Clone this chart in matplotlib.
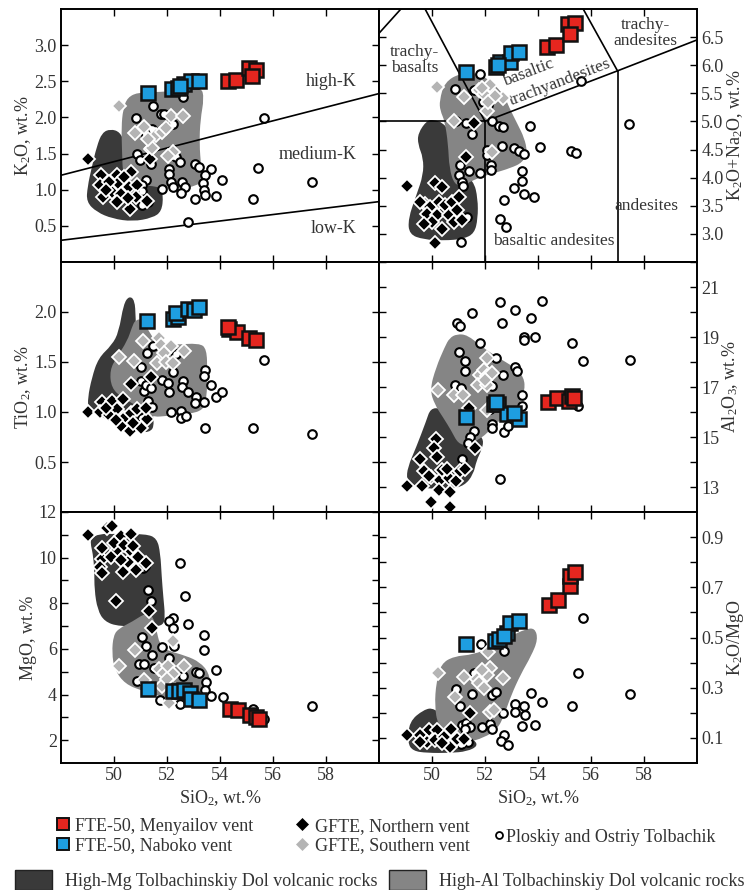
import numpy as np
import matplotlib
matplotlib.use("Agg")
import matplotlib.pyplot as plt
from matplotlib.path import Path
from matplotlib.patches import PathPatch, Patch
from matplotlib.lines import Line2D

plt.rcParams['font.family'] = ['Liberation Serif', 'DejaVu Serif']
plt.rcParams['mathtext.fontset'] = 'custom'
plt.rcParams['mathtext.rm'] = 'Liberation Serif'
plt.rcParams['mathtext.it'] = 'Liberation Serif:italic'

TXT = '#333333'
RED = '#e5261f'
BLUE = '#1e9ee0'
DARK = '#3a3a3a'
GRAY = '#858585'
LGRAY = '#b4b4b4'

# ---------------- data: K2O vs SiO2 ----------------
red_k2o = [(54.3, 2.50), (54.6, 2.52), (55.1, 2.69), (55.35, 2.66), (55.2, 2.57)]
blue_k2o = [(51.3, 2.34), (52.2, 2.40), (52.4, 2.41), (52.65, 2.46), (52.9, 2.50), (53.2, 2.50), (52.5, 2.43)]
circ_k2o = [(51.48, 2.16), (50.82, 1.99), (51.77, 2.05), (51.90, 2.05), (52.09, 1.91), (52.21, 1.91), (52.62, 2.28),
            (51.20, 1.76), (51.45, 1.84), (50.88, 1.49), (50.97, 1.41), (51.35, 1.43), (51.39, 1.35), (52.06, 1.29),
            (52.06, 1.22), (52.34, 1.45), (52.50, 1.38), (53.07, 1.36), (53.20, 1.31), (53.67, 1.28), (53.45, 1.20),
            (52.15, 1.11), (52.21, 1.04), (52.57, 1.11), (52.69, 1.04), (52.53, 0.95), (53.35, 1.09), (53.38, 0.99),
            (53.45, 0.93), (53.07, 0.87), (53.86, 0.91), (54.08, 1.13), (55.25, 0.87), (55.44, 1.30), (55.66, 1.99),
            (57.46, 1.11), (52.78, 0.55), (51.80, 1.01), (51.20, 1.13), (51.05, 1.06), (51.01, 0.90), (51.07, 0.79),
            (51.30, 0.83), (51.05, 0.98)]
north_k2o = [(49.01, 1.43), (51.39, 1.56), (49.52, 1.21), (50.13, 1.21), (50.63, 1.24), (49.46, 1.06), (50.16, 1.09),
             (50.57, 1.04), (49.94, 0.97), (50.25, 0.94), (50.13, 0.83), (50.59, 0.73), (50.88, 1.06), (51.26, 0.85),
             (49.81, 1.11), (50.38, 1.17), (50.82, 0.90), (49.58, 0.90), (51.35, 1.42), (49.71, 0.99), (50.51, 0.88)]
south_k2o = [(50.19, 2.16), (50.80, 1.78), (51.14, 1.87), (51.58, 1.76), (51.83, 1.80), (51.96, 1.85), (52.15, 2.02),
             (52.59, 2.02), (51.43, 1.58), (52.21, 1.52), (52.02, 1.46), (51.30, 1.70)]
hiAl_k2o = [(50.34, 2.11), (50.51, 2.28), (50.95, 2.35), (51.71, 2.35), (52.72, 2.38), (53.29, 2.42), (53.40, 2.27),
            (53.26, 1.97), (53.22, 1.64), (53.29, 1.31), (53.34, 1.13), (53.10, 1.05), (52.53, 1.02), (51.83, 1.02),
            (51.33, 1.06), (50.70, 1.06), (50.34, 1.17), (50.30, 1.55), (50.28, 1.87)]
hiMg_k2o = [(48.96, 0.83), (49.00, 1.04), (49.16, 1.31), (49.35, 1.60), (49.55, 1.79), (49.87, 1.84), (50.22, 1.80),
            (50.40, 1.65), (51.00, 1.30), (51.75, 1.10), (51.86, 0.92), (51.80, 0.70), (51.45, 0.61), (50.70, 0.56),
            (49.94, 0.60), (49.35, 0.69)]
k_high_line = ([48, 60], [1.20, 2.33])
k_low_line = ([48, 60], [0.30, 0.835])

# ---------------- data: K2O+Na2O vs SiO2 (TAS) ----------------
red_tas = [(54.34, 6.33), (54.69, 6.36), (55.12, 6.73), (55.41, 6.75), (55.19, 6.55)]
blue_tas = [(51.30, 5.88), (52.43, 5.97), (52.58, 6.06), (52.96, 6.06), (52.99, 6.22), (53.27, 6.24), (52.50, 6.00)]
circ_tas = [(51.80, 5.84), (50.88, 5.58), (51.57, 5.56), (51.92, 5.34), (52.11, 5.30), (50.92, 5.01), (51.30, 4.98),
            (51.51, 4.77), (52.26, 5.01), (52.52, 4.92), (52.68, 4.90), (53.69, 4.92), (52.08, 4.50), (52.08, 4.41),
            (52.64, 4.56), (53.08, 4.53), (53.27, 4.48), (53.46, 4.42), (54.09, 4.55), (55.26, 4.47), (55.45, 4.44),
            (55.62, 5.72), (57.45, 4.96), (51.07, 4.22), (51.38, 4.11), (51.01, 4.05), (51.82, 4.08), (52.23, 4.23),
            (52.23, 4.14), (53.40, 4.12), (53.40, 3.94), (53.08, 3.82), (53.46, 3.71), (53.86, 3.65), (52.70, 3.60),
            (52.55, 3.27), (52.80, 3.13), (51.13, 3.93), (51.17, 3.85), (51.32, 3.30), (51.11, 2.86)]
north_tas = [(49.06, 3.85), (50.13, 2.83), (51.57, 4.98), (51.30, 4.36), (50.13, 3.90), (50.38, 3.84), (49.75, 3.54),
             (49.94, 3.48), (50.25, 3.57), (50.50, 3.51), (50.75, 3.57), (51.01, 3.66), (49.81, 3.36), (50.19, 3.33),
             (50.63, 3.33), (50.94, 3.42), (50.00, 3.21), (50.38, 3.09), (50.82, 3.21), (51.13, 3.24), (49.69, 3.18),
             (49.56, 3.57)]
south_tas = [(50.19, 5.62), (52.68, 5.42), (51.20, 5.43), (51.76, 5.56), (52.18, 5.64), (51.97, 5.48), (52.39, 5.46),
             (52.08, 5.19), (50.82, 5.00), (52.26, 4.46), (51.90, 5.60), (52.10, 5.35)]
hiAl_tas = [(50.28, 5.37), (50.48, 5.70), (51.07, 5.86), (51.76, 5.86), (52.28, 5.69), (52.72, 5.47), (52.91, 5.25),
            (53.23, 4.95), (53.48, 4.71), (53.60, 4.46), (53.42, 4.27), (52.96, 4.17), (52.33, 4.08), (51.70, 3.99),
            (51.19, 3.86), (50.85, 3.87), (50.65, 4.17), (50.61, 4.59), (50.48, 5.01), (50.31, 5.19)]
hiMg_tas = [(49.81, 5.02), (49.47, 4.79), (49.47, 4.59), (49.67, 4.35), (49.67, 4.05), (49.41, 3.69), (49.10, 3.27),
            (49.14, 2.99), (49.69, 2.90), (50.44, 2.88), (51.19, 2.91), (51.60, 3.01), (51.73, 3.27), (51.73, 3.63),
            (51.57, 3.95), (50.90, 4.20), (50.65, 4.83), (50.40, 4.98), (50.06, 5.03)]
tas_lines = [([45.0, 49.4], [5.0, 7.3]),
             ([49.4, 52.0], [7.3, 5.0]),
             ([45.0, 52.0], [5.0, 5.0]),
             ([52.0, 52.0], [0.0, 5.0]),
             ([52.0, 57.0, 63.0], [5.0, 5.9, 7.0]),
             ([57.0, 57.0], [0.0, 5.9]),
             ([53.0, 57.0], [9.3, 5.9])]

# ---------------- data: TiO2 vs SiO2 ----------------
red_ti = [(54.34, 1.83), (54.64, 1.80), (55.09, 1.74), (55.35, 1.72), (54.30, 1.85)]
blue_ti = [(51.26, 1.91), (52.21, 1.93), (52.40, 1.95), (52.34, 1.99), (52.78, 2.03), (53.03, 2.02), (53.22, 2.05)]
circ_ti = [(51.48, 1.66), (51.26, 1.59), (52.34, 1.58), (51.01, 1.45), (52.21, 1.40), (53.45, 1.42), (53.38, 1.36),
           (51.01, 1.31), (51.14, 1.21), (51.20, 1.27), (51.39, 1.24), (51.81, 1.32), (52.02, 1.29), (52.59, 1.31),
           (52.57, 1.25), (52.78, 1.20), (52.06, 1.20), (51.30, 1.11), (51.45, 1.05), (53.10, 1.15), (53.07, 1.09),
           (53.38, 1.10), (53.67, 1.27), (53.86, 1.15), (54.08, 1.20), (52.15, 1.00), (52.53, 1.01), (52.53, 0.94),
           (52.72, 0.96), (53.45, 0.84), (55.25, 0.84), (55.66, 1.52), (57.46, 0.78), (51.05, 0.94)]
north_ti = [(49.03, 1.00), (50.63, 1.28), (51.39, 1.35), (49.53, 1.10), (49.94, 1.11), (50.34, 1.13), (49.49, 1.00),
            (49.81, 0.97), (50.13, 1.03), (50.38, 0.94), (50.63, 0.99), (50.88, 1.03), (50.25, 0.86), (50.59, 0.81),
            (51.01, 0.84), (51.26, 0.93), (49.68, 1.04), (50.06, 0.92), (50.70, 0.89), (51.20, 1.04)]
south_ti = [(50.19, 1.55), (51.10, 1.71), (50.76, 1.51), (51.68, 1.74), (51.77, 1.67), (52.15, 1.66), (51.90, 1.59),
            (51.64, 1.49), (51.96, 1.50), (52.21, 1.49), (52.65, 1.61)]
hiAl_ti = [(50.80, 1.92), (51.07, 1.93), (51.33, 1.80), (51.58, 1.70), (52.21, 1.67), (53.22, 1.69), (53.50, 1.63),
           (53.52, 1.40), (53.50, 1.14), (53.37, 1.02), (52.84, 0.98), (51.96, 0.96), (51.52, 0.95), (51.33, 0.98),
           (50.95, 1.05), (50.32, 1.14), (49.90, 1.24), (49.84, 1.42), (50.11, 1.55), (50.50, 1.71), (50.68, 1.85)]
hiMg_ti = [(50.57, 2.16), (50.36, 2.08), (50.18, 1.80), (49.92, 1.67), (49.41, 1.54), (49.16, 1.34), (49.01, 1.14),
           (49.03, 1.03), (49.43, 0.97), (49.94, 0.89), (50.70, 0.81), (51.35, 0.79), (51.55, 0.88), (51.30, 1.20),
           (50.85, 1.60), (50.82, 1.95), (50.78, 2.12)]

# ---------------- data: Al2O3 vs SiO2 ----------------
red_al = [(54.36, 16.41), (54.72, 16.57), (55.16, 16.46), (55.28, 16.63), (55.37, 16.57)]
blue_al = [(51.30, 15.80), (52.35, 16.33), (52.48, 16.33), (52.83, 15.91), (53.27, 15.74), (53.08, 15.97), (52.40, 16.40)]
circ_al = [(51.51, 19.98), (50.94, 19.55), (51.07, 19.45), (52.58, 20.40), (52.64, 19.55), (53.14, 20.07), (53.74, 19.77),
           (54.15, 20.43), (53.46, 19.02), (53.48, 18.88), (53.90, 19.02), (51.82, 18.75), (51.01, 18.39), (55.28, 18.75),
           (55.69, 18.05), (57.48, 18.09), (51.26, 18.05), (52.43, 18.16), (51.26, 17.65), (52.68, 17.49), (53.14, 17.79),
           (53.21, 17.65), (50.88, 17.07), (51.09, 16.97), (52.26, 17.03), (53.40, 16.70), (53.40, 16.24), (52.20, 16.11),
           (52.26, 15.51), (52.26, 15.35), (52.70, 15.22), (52.86, 15.44), (51.57, 15.25), (51.42, 15.01), (51.35, 14.78),
           (51.13, 14.12), (52.58, 13.33), (55.50, 16.24)]
north_al = [(49.06, 13.06), (49.96, 12.40), (50.67, 12.20), (49.62, 13.06), (49.96, 13.39), (50.31, 13.29), (50.63, 13.37),
            (50.92, 13.26), (50.25, 12.87), (50.69, 12.80), (50.16, 14.92), (50.09, 14.56), (50.19, 14.19), (50.38, 13.69),
            (50.57, 13.72), (51.04, 13.66), (49.69, 13.66), (49.56, 14.12), (51.38, 16.17), (49.87, 13.46), (51.26, 13.72),
            (51.64, 14.56)]
south_al = [(50.21, 16.90), (50.84, 16.67), (51.17, 16.70), (52.08, 18.18), (51.80, 17.50), (51.95, 17.70), (52.08, 17.44),
            (52.26, 17.57), (51.75, 17.07), (52.08, 17.10), (52.00, 17.30), (52.08, 16.10)]
hiAl_al = [(50.94, 19.12), (51.34, 19.08), (51.84, 18.64), (52.45, 18.20), (53.10, 17.80), (53.48, 17.38), (53.50, 16.83),
           (53.30, 16.28), (52.90, 15.88), (52.45, 15.60), (52.08, 15.14), (51.70, 14.86), (51.32, 14.66), (50.98, 14.74),
           (50.73, 15.25), (50.42, 15.78), (50.10, 16.30), (49.92, 16.90), (50.15, 17.78), (50.48, 18.60), (50.66, 18.96)]
hiMg_al = [(49.94, 16.14), (49.78, 15.64), (49.40, 14.58), (49.08, 13.79), (49.04, 13.28), (49.28, 13.05), (49.94, 12.92),
           (50.69, 12.92), (51.22, 13.05), (51.56, 13.50), (51.68, 14.06), (51.86, 14.45), (51.96, 14.88), (51.72, 15.15),
           (51.00, 15.80), (50.31, 16.16)]

# ---------------- data: MgO vs SiO2 ----------------
red_mg = [(54.36, 3.38), (54.68, 3.34), (55.12, 3.09), (55.37, 3.02), (55.47, 2.94)]
blue_mg = [(51.29, 4.26), (52.21, 4.14), (52.44, 4.17), (52.65, 4.21), (52.87, 4.07), (52.91, 3.80), (53.22, 3.78)]
circ_mg = [(52.49, 9.78), (52.69, 8.32), (51.30, 8.56), (51.39, 8.12), (52.21, 7.35), (52.06, 7.23), (52.21, 6.91),
           (52.78, 7.08), (53.38, 6.62), (53.38, 5.96), (51.05, 6.50), (51.20, 6.14), (51.45, 5.74), (51.81, 6.08),
           (52.06, 5.60), (52.28, 6.11), (50.95, 5.35), (51.14, 5.34), (51.52, 5.16), (50.88, 4.58), (52.59, 4.80),
           (53.10, 4.97), (53.22, 4.94), (53.48, 4.53), (53.45, 4.21), (53.67, 3.95), (53.86, 5.09), (54.13, 3.89),
           (51.75, 3.75), (52.50, 3.59), (55.25, 3.37), (55.65, 2.93), (57.46, 3.48), (51.10, 9.53), (51.18, 9.64)]
north_mg = [(49.01, 10.99), (49.75, 11.28), (49.94, 11.40), (50.25, 10.96), (50.63, 11.03), (49.56, 9.93), (49.49, 9.61),
            (50.13, 10.34), (50.54, 9.83), (51.20, 9.75), (51.33, 7.64), (51.45, 6.91), (49.53, 9.31), (50.61, 10.34),
            (49.56, 10.41), (50.00, 10.66), (50.38, 10.55), (50.70, 10.51), (49.87, 10.04), (50.25, 9.90), (50.34, 9.39),
            (50.82, 9.46), (50.06, 8.08), (50.92, 10.01)]
south_mg = [(50.19, 5.23), (50.80, 5.96), (51.14, 4.65), (51.71, 5.12), (51.90, 4.95), (52.02, 5.24), (51.83, 4.39),
            (52.21, 4.88), (52.65, 5.23), (52.21, 6.33), (52.06, 3.63), (52.00, 4.70)]
hiAl_mg = [(49.98, 6.60), (50.19, 6.90), (50.70, 7.20), (51.20, 7.58), (51.48, 7.42), (51.60, 6.84), (51.72, 6.22),
           (51.96, 5.94), (52.72, 5.70), (53.24, 5.42), (53.58, 4.96), (53.64, 4.34), (53.43, 3.86), (52.84, 3.72),
           (52.21, 3.74), (51.71, 3.94), (51.07, 4.16), (50.42, 4.46), (50.02, 5.09), (49.92, 5.84)]
hiMg_mg = [(49.15, 10.85), (49.43, 11.04), (50.06, 11.04), (51.20, 11.04), (51.62, 10.85), (51.75, 10.19), (51.80, 9.17),
           (51.86, 8.29), (51.93, 7.42), (51.86, 7.05), (51.52, 6.98), (50.19, 6.98), (49.64, 7.20), (49.38, 7.71),
           (49.26, 8.59), (49.26, 9.46), (49.20, 10.19), (49.11, 10.63)]

# ---------------- data: K2O/MgO vs SiO2 ----------------
red_km = [(54.40, 0.630), (54.74, 0.650), (55.19, 0.705), (55.19, 0.745), (55.38, 0.760)]
blue_km = [(51.30, 0.476), (52.39, 0.488), (52.52, 0.495), (52.83, 0.516), (52.96, 0.558), (53.27, 0.565), (52.70, 0.505)]
circ_km = [(51.85, 0.475), (52.70, 0.446), (51.60, 0.360), (55.70, 0.578), (55.50, 0.360), (57.48, 0.275), (50.92, 0.295),
           (51.04, 0.229), (51.51, 0.275), (52.26, 0.272), (52.43, 0.284), (52.68, 0.200), (53.14, 0.236), (53.46, 0.229),
           (53.52, 0.192), (53.74, 0.278), (54.15, 0.245), (55.28, 0.226), (53.14, 0.205), (53.40, 0.146), (53.90, 0.153),
           (51.13, 0.153), (51.30, 0.161), (51.42, 0.143), (51.26, 0.137), (51.89, 0.143), (52.20, 0.157), (52.26, 0.134),
           (52.70, 0.110), (52.60, 0.087), (52.86, 0.071), (51.35, 0.084), (51.09, 0.074)]
north_km = [(49.06, 0.113), (51.45, 0.200), (49.87, 0.130), (50.19, 0.130), (49.56, 0.110), (49.81, 0.084), (50.13, 0.091),
            (50.44, 0.104), (50.72, 0.137), (50.69, 0.064), (50.94, 0.097), (49.56, 0.084), (51.19, 0.097), (50.38, 0.078)]
south_km = [(50.21, 0.360), (52.10, 0.442), (51.22, 0.341), (50.88, 0.262), (52.20, 0.203), (52.33, 0.210), (52.68, 0.337),
            (51.70, 0.336), (51.76, 0.320), (51.95, 0.300), (52.20, 0.380), (52.08, 0.350), (51.90, 0.370)]
hiAl_km = [(50.34, 0.395), (50.82, 0.425), (51.57, 0.432), (52.20, 0.460), (52.96, 0.505), (53.52, 0.533), (53.88, 0.538),
           (54.00, 0.492), (53.74, 0.426), (53.35, 0.354), (52.98, 0.268), (52.72, 0.189), (52.47, 0.135), (51.95, 0.100),
           (51.32, 0.082), (50.69, 0.095), (50.22, 0.150), (50.10, 0.229), (50.16, 0.321)]
hiMg_km = [(49.08, 0.080), (49.14, 0.165), (49.69, 0.213), (50.08, 0.220), (50.70, 0.160), (51.57, 0.095), (51.74, 0.068),
           (51.32, 0.046), (50.69, 0.040), (49.81, 0.040), (49.28, 0.048)]

sio2_ticks = [50, 52, 54, 56, 58]


def field(ax, pts, color):
    p = np.asarray(pts, float)
    mids = (p + np.roll(p, -1, axis=0)) / 2.0
    verts = [mids[-1]]
    codes = [Path.MOVETO]
    for i in range(len(p)):
        verts += [p[i], mids[i]]
        codes += [Path.CURVE3, Path.CURVE3]
    verts.append(mids[-1])
    codes.append(Path.CLOSEPOLY)
    ax.add_patch(PathPatch(Path(verts, codes), facecolor=color, edgecolor='none', zorder=1))


def pts_plot(ax, pts, **kw):
    a = np.asarray(pts, float)
    ax.plot(a[:, 0], a[:, 1], linestyle='none', **kw)


CIRC = dict(marker='o', ms=6.2, mfc='white', mec='black', mew=1.5, zorder=3)
NORTH = dict(marker='D', ms=6.8, mfc='black', mec='white', mew=1.3, zorder=4)
SOUTH = dict(marker='D', ms=6.8, mfc=LGRAY, mec='white', mew=1.3, zorder=4)
REDM = dict(marker='s', ms=10, mfc=RED, mec='#111111', mew=1.8, zorder=5)
BLUEM = dict(marker='s', ms=10, mfc=BLUE, mec='#111111', mew=1.8, zorder=5)

fig = plt.figure(figsize=(7.53, 8.90), dpi=100)
W, H = 753.0, 890.0
cols = [61, 379]
rows = [(9, 262), (262, 512), (512, 763)]
panel_w = 318

panels = [
    dict(r=0, c=0, red=red_k2o, blue=blue_k2o, circ=circ_k2o, north=north_k2o, south=south_k2o,
         hiAl=hiAl_k2o, hiMg=hiMg_k2o, ylim=(0, 3.5), yt=[0.5, 1.0, 1.5, 2.0, 2.5, 3.0],
         ytl=['0.5', '1.0', '1.5', '2.0', '2.5', '3.0'], ylab=r'K$_\mathregular{2}$O, wt.%'),
    dict(r=0, c=1, red=red_tas, blue=blue_tas, circ=circ_tas, north=north_tas, south=south_tas,
         hiAl=hiAl_tas, hiMg=hiMg_tas, ylim=(2.5, 7.0), yt=[3.0, 3.5, 4.0, 4.5, 5.0, 5.5, 6.0, 6.5],
         ytl=['3.0', '3.5', '4.0', '4.5', '5.0', '5.5', '6.0', '6.5'],
         ylab=r'K$_\mathregular{2}$O+Na$_\mathregular{2}$O, wt.%'),
    dict(r=1, c=0, red=red_ti, blue=blue_ti, circ=circ_ti, north=north_ti, south=south_ti,
         hiAl=hiAl_ti, hiMg=hiMg_ti, ylim=(0, 2.5), yt=[0.5, 1.0, 1.5, 2.0],
         ytl=['0.5', '1.0', '1.5', '2.0'], ylab=r'TiO$_\mathregular{2}$, wt.%'),
    dict(r=1, c=1, red=red_al, blue=blue_al, circ=circ_al, north=north_al, south=south_al,
         hiAl=hiAl_al, hiMg=hiMg_al, ylim=(12, 22), yt=list(range(12, 23)),
         ytl=['' if v % 2 == 0 else str(v) for v in range(12, 23)],
         ylab=r'Al$_\mathregular{2}$O$_\mathregular{3}$, wt.%'),
    dict(r=2, c=0, red=red_mg, blue=blue_mg, circ=circ_mg, north=north_mg, south=south_mg,
         hiAl=hiAl_mg, hiMg=hiMg_mg, ylim=(1, 12), yt=list(range(2, 13)),
         ytl=[str(v) if v % 2 == 0 else '' for v in range(2, 13)], ylab='MgO, wt.%'),
    dict(r=2, c=1, red=red_km, blue=blue_km, circ=circ_km, north=north_km, south=south_km,
         hiAl=hiAl_km, hiMg=hiMg_km, ylim=(0, 1.0), yt=[0.1, 0.2, 0.3, 0.4, 0.5, 0.6, 0.7, 0.8, 0.9],
         ytl=['0.1', '', '0.3', '', '0.5', '', '0.7', '', '0.9'], ylab=r'K$_\mathregular{2}$O/MgO'),
]

axes = {}
for p in panels:
    top, bot = rows[p['r']]
    x0 = cols[p['c']]
    ax = fig.add_axes([x0 / W, 1 - bot / H, panel_w / W, (bot - top) / H])
    axes[(p['r'], p['c'])] = ax
    ax.set_xlim(48, 60)
    ax.set_ylim(*p['ylim'])
    field(ax, p['hiMg'], DARK)
    field(ax, p['hiAl'], GRAY)
    pts_plot(ax, p['circ'], **CIRC)
    pts_plot(ax, p['north'], **NORTH)
    pts_plot(ax, p['south'], **SOUTH)
    pts_plot(ax, p['blue'], **BLUEM)
    pts_plot(ax, p['red'], **REDM)
    ax.set_xticks(sio2_ticks)
    ax.set_yticks(p['yt'])
    ax.set_yticklabels(p['ytl'])
    ax.tick_params(direction='in', length=5, width=1.0, top=True, bottom=True, left=True, right=True,
                   labelsize=13, labelcolor=TXT, color='black', pad=3)
    if p['r'] < 2:
        ax.set_xticklabels([])
    else:
        ax.set_xticklabels([str(v) for v in sio2_ticks])
        ax.set_xlabel(r'SiO$_\mathregular{2}$, wt.%', fontsize=13, color=TXT, labelpad=3)
    if p['c'] == 1:
        ax.tick_params(labelleft=False, labelright=True)
        ax.yaxis.set_label_position('right')
    ax.set_ylabel(p['ylab'], fontsize=13, color=TXT, labelpad=1)
    for s in ax.spines.values():
        s.set_linewidth(1.4)
        s.set_color('black')

# K classification lines and labels
ax = axes[(0, 0)]
ax.plot(*k_high_line, color='black', lw=1.2, zorder=2)
ax.plot(*k_low_line, color='black', lw=1.2, zorder=2)
ax.text(58.2, 2.50, 'high-K', fontsize=13, color=TXT, ha='center', va='center')
ax.text(57.7, 1.49, 'medium-K', fontsize=13, color=TXT, ha='center', va='center')
ax.text(58.3, 0.47, 'low-K', fontsize=13, color=TXT, ha='center', va='center')

# TAS boundaries and labels
ax = axes[(0, 1)]
for xs, ys in tas_lines:
    ax.plot(xs, ys, color='black', lw=1.2, zorder=2)
ax.text(49.35, 6.09, 'trachy-\nbasalts', fontsize=12.5, color=TXT, ha='center', va='center', linespacing=1.0)
ax.text(58.05, 6.57, 'trachy-\nandesites', fontsize=12.5, color=TXT, ha='center', va='center', linespacing=1.0)
ax.text(58.1, 3.50, 'andesites', fontsize=12.5, color=TXT, ha='center', va='center')
ax.text(54.6, 2.88, 'basaltic andesites', fontsize=12.5, color=TXT, ha='center', va='center')
ax.text(53.65, 5.86, 'basaltic', fontsize=12.5, color=TXT, ha='center', va='center', rotation=21,
        rotation_mode='anchor')
ax.text(54.84, 5.70, 'trachyandesites', fontsize=12.5, color=TXT, ha='center', va='center', rotation=21,
        rotation_mode='anchor')

# legends
h_red = Line2D([], [], linestyle='none', marker='s', ms=8, mfc=RED, mec='#111111', mew=1.4)
h_blue = Line2D([], [], linestyle='none', marker='s', ms=8, mfc=BLUE, mec='#111111', mew=1.4)
h_n = Line2D([], [], linestyle='none', marker='D', ms=6.5, mfc='black', mec='black', mew=0.5)
h_s = Line2D([], [], linestyle='none', marker='D', ms=6.5, mfc=LGRAY, mec=LGRAY, mew=0.5)
h_c = Line2D([], [], linestyle='none', marker='o', ms=5, mfc='white', mec='black', mew=1.3)
common = dict(frameon=False, fontsize=13, borderpad=0, borderaxespad=0, handlelength=0.9,
              handletextpad=0.25, labelspacing=0.15, labelcolor=TXT)
fig.legend([h_red, h_blue], ['FTE-50, Menyailov vent', 'FTE-50, Naboko vent'], loc='center left',
           bbox_to_anchor=(54.5 / W, 1 - 836 / H), **common)
fig.legend([h_n, h_s], ['GFTE, Northern vent', 'GFTE, Southern vent'], loc='center left',
           bbox_to_anchor=(294 / W, 1 - 836 / H), **common)
fig.legend([h_c], ['Ploskiy and Ostriy Tolbachik'], loc='center left',
           bbox_to_anchor=(496 / W, 1 - 837 / H), frameon=False, fontsize=13, borderpad=0, borderaxespad=0,
           handlelength=0.3, handletextpad=0.25, labelcolor=TXT)
patch_common = dict(loc='center left', frameon=False, fontsize=13, borderpad=0, borderaxespad=0,
                    handlelength=2.05, handleheight=1.4, handletextpad=0.7, labelcolor=TXT)
fig.legend([Patch(facecolor=DARK, edgecolor='#222222')], ['High-Mg Tolbachinskiy Dol volcanic rocks'],
           bbox_to_anchor=(15 / W, 1 - 880 / H), **patch_common)
fig.legend([Patch(facecolor=GRAY, edgecolor='#222222')], ['High-Al Tolbachinskiy Dol volcanic rocks'],
           bbox_to_anchor=(389 / W, 1 - 880 / H), **patch_common)

fig.savefig('out.png', dpi=100)
